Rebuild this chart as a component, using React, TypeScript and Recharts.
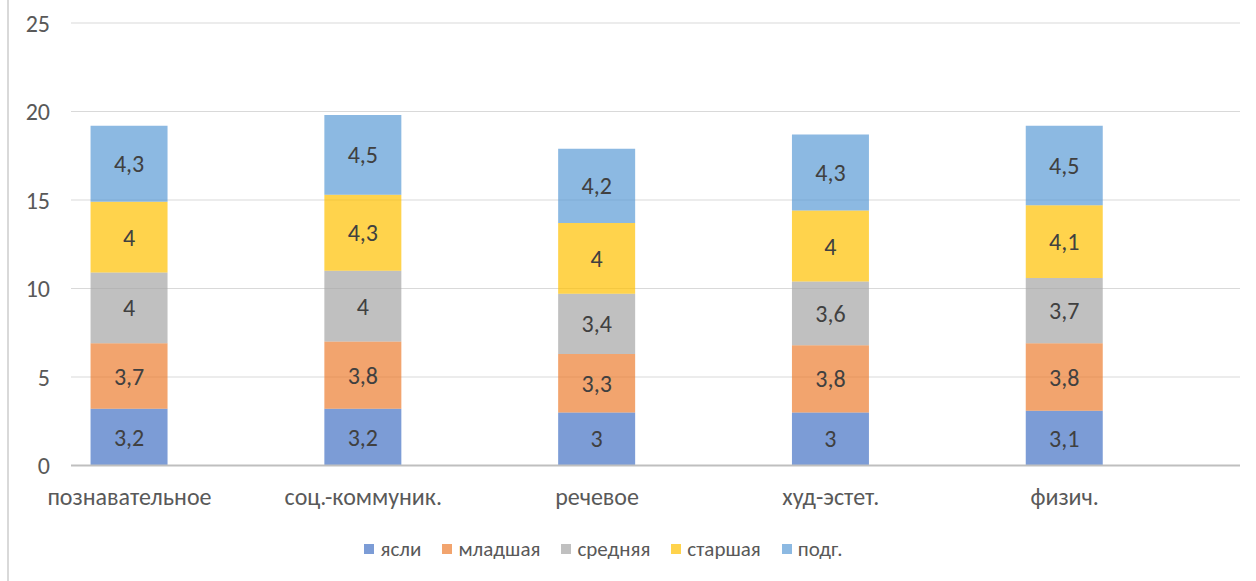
import { BarChart, Bar, XAxis, YAxis, CartesianGrid, Legend, LabelList } from 'recharts'

const categories = ['познавательное', 'соц.-коммуник.', 'речевое', 'худ-эстет.', 'физич.']
const yasli = [3.2, 3.2, 3, 3, 3.1]
const mladshaya = [3.7, 3.8, 3.3, 3.8, 3.8]
const srednyaya = [4, 4, 3.4, 3.6, 3.7]
const starshaya = [4, 4.3, 4, 4, 4.1]
const podg = [4.3, 4.5, 4.2, 4.3, 4.5]
const yTicks = [0, 5, 10, 15, 20, 25]

const series = [
  { key: 'yasli', name: 'ясли', color: '#4472C4', values: yasli },
  { key: 'mladshaya', name: 'младшая', color: '#ED7D31', values: mladshaya },
  { key: 'srednyaya', name: 'средняя', color: '#A5A5A5', values: srednyaya },
  { key: 'starshaya', name: 'старшая', color: '#FFC000', values: starshaya },
  { key: 'podg', name: 'подг.', color: '#5B9BD5', values: podg },
]

const data = categories.map((c, i) => {
  const row: Record<string, number | string> = { x: i, name: c }
  series.forEach((s) => { row[s.key] = s.values[i] })
  return row
})

const FONT = 'Carlito, Calibri, "Liberation Sans", sans-serif'
const fmt = (v: number) => String(v).replace('.', ',')

function LegendContent() {
  return (
    <div style={{ display: 'flex', justifyContent: 'center', fontFamily: FONT, fontSize: 21, lineHeight: '24px', color: '#595959', paddingRight: 12 }}>
      {series.map((s) => (
        <div key={s.key} style={{ display: 'flex', alignItems: 'center', marginRight: 21 }}>
          <span style={{ display: 'inline-block', width: 10, height: 10, background: s.color, opacity: 0.7, marginRight: 6 }} />
          <span>{s.name}</span>
        </div>
      ))}
    </div>
  )
}

export default function App() {
  return (
    <div style={{ position: 'relative', width: 1256, height: 581, background: '#fff' }}>
      <style>{'body{margin:0}'}</style>
      <div style={{ position: 'absolute', left: 7, top: 0, width: 2, height: 581, background: '#D9D9D9' }} />
      <BarChart width={1256} height={581} data={data} margin={{ top: 23, right: 16, bottom: 0, left: 0 }}>
        <CartesianGrid vertical={false} stroke="#D9D9D9" strokeWidth={1} />
        <XAxis
          type="number"
          dataKey="x"
          domain={[-0.25, 4.75]}
          ticks={[0, 1, 2, 3, 4]}
          tickFormatter={(i: number) => categories[i]}
          interval={0}
          tick={{ fontSize: 24, fill: '#595959', fontFamily: FONT }}
          tickLine={false}
          axisLine={{ stroke: '#BFBFBF', strokeWidth: 2 }}
          tickMargin={16}
          height={71.5}
          allowDataOverflow
        />
        <YAxis
          domain={[0, 25]}
          ticks={yTicks}
          tick={{ fontSize: 24, fill: '#595959', fontFamily: FONT }}
          tickLine={false}
          axisLine={false}
          tickMargin={15}
          width={71}
        />
        <Legend verticalAlign="bottom" height={44} content={<LegendContent />} />
        {series.map((s) => (
          <Bar key={s.key} dataKey={s.key} name={s.name} stackId="a" fill={s.color} fillOpacity={0.7} barSize={77} isAnimationActive={false}>
            <LabelList dataKey={s.key} position="center" formatter={(v: number) => fmt(v)} style={{ fontSize: 24, fill: '#404040', fontFamily: FONT }} />
          </Bar>
        ))}
      </BarChart>
    </div>
  )
}
